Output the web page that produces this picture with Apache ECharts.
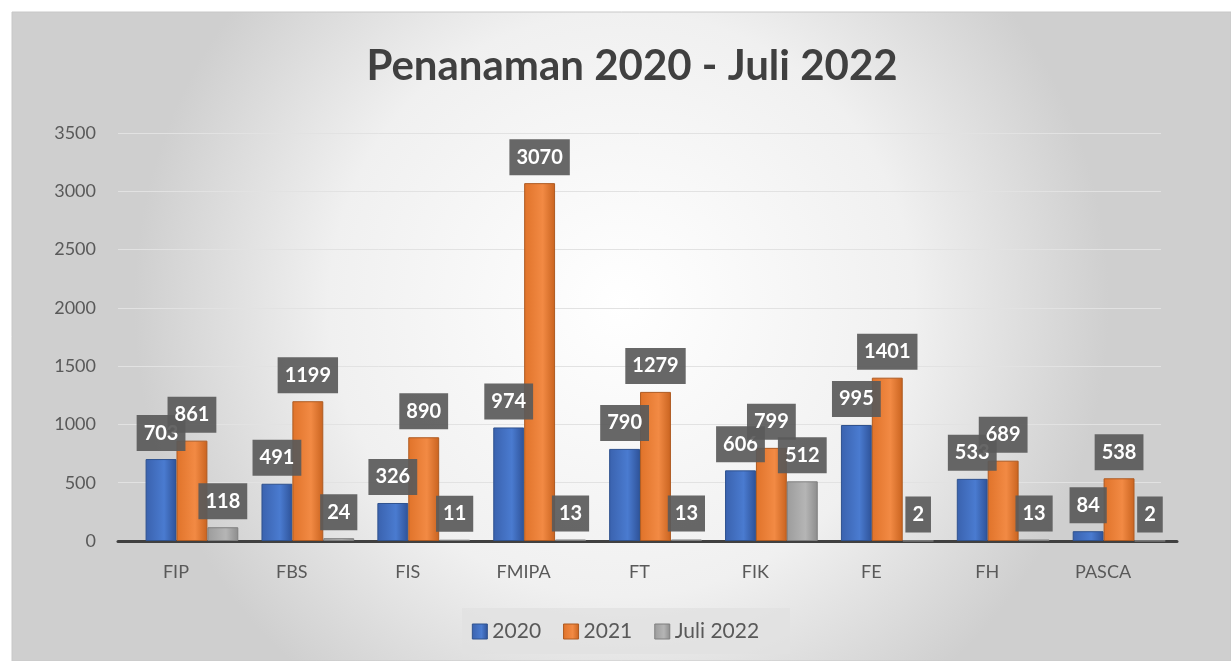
<!DOCTYPE html>
<html><head><meta charset="utf-8">
<script src="https://cdn.jsdelivr.net/npm/echarts@6/dist/echarts.min.js"></script>
<style>html,body{margin:0;padding:0;background:#fff}#c{width:1231px;height:661px}</style>
</head><body><div id="c"></div>
<script>
const categories = ['FIP','FBS','FIS','FMIPA','FT','FIK','FE','FH','PASCA'];
const s2020 = [703,491,326,974,790,606,995,533,84];
const s2021 = [861,1199,890,3070,1279,799,1401,689,538];
const sJuli2022 = [118,24,11,13,13,512,2,13,2];
const seriesNames = ['2020','2021','Juli 2022'];
const yTicks = [0,500,1000,1500,2000,2500,3000,3500];

const chart = echarts.init(document.getElementById('c'));
function grad(c1,c2,c3){
  return {type:'linear',x:0,y:0,x2:1,y2:0,colorStops:[{offset:0,color:c1},{offset:0.6,color:c2},{offset:1,color:c3}]};
}
const FF = 'Lato, "Open Sans", sans-serif';
const lbl = {
  show:true, position:'top', distance:8,
  backgroundColor:'rgba(90,90,90,0.92)', color:'#fff',
  fontFamily:FF, fontWeight:'bold', fontSize:20,
  padding:[8,7,8,7]
};
chart.setOption({
  backgroundColor:'#fff',
  graphic:[{type:'rect', z:-10, shape:{x:12,y:12,width:1219,height:649},
    style:{fill:{type:'radial',x:0.5,y:0.45,r:0.75,colorStops:[{offset:0,color:'#ffffff'},{offset:0.6,color:'#f0f0f0'},{offset:1,color:'#cfcfcf'}]},
      stroke:'#c8c8c8', lineWidth:1}},
    {type:'rect', z:-5, shape:{x:462,y:608,width:328,height:46}, style:{fill:'rgba(225,225,225,0.8)'}}
  ],
  title:{text:'Penanaman 2020 - Juli 2022', left:627, textAlign:'center', top:40,
    textStyle:{fontFamily:FF, fontWeight:'bold', fontSize:42, color:'#404040'}},
  legend:{bottom:14, left:'center', icon:'rect', itemWidth:15, itemHeight:15, itemGap:22,
    textStyle:{fontFamily:FF, fontSize:21, color:'#595959'},
    data:seriesNames.map((n,i)=>({name:n, itemStyle:{borderColor:['#2F528F','#AE5A21','#7F7F7F'][i], borderWidth:1}}))},
  grid:[{left:118, right:70, top:133, bottom:120},{left:134, right:54, top:133, bottom:120}],
  xAxis:[{type:'category', data:categories, gridIndex:0,
    axisLine:{lineStyle:{color:'#404040', width:3}}, axisTick:{show:false},
    axisLabel:{fontFamily:FF, fontSize:18, color:'#595959', margin:22}},
    {type:'category', data:categories, gridIndex:1,
    axisLine:{lineStyle:{color:'#404040', width:3}}, axisTick:{show:false}, axisLabel:{show:false}}],
  yAxis:[{type:'value', min:0, max:3500, interval:500, gridIndex:0,
    axisLabel:{fontFamily:FF, fontSize:18, color:'#595959', margin:22,
      formatter:v=>yTicks.includes(v)?String(v):''},
    splitLine:{lineStyle:{color:'#e2e2e2', width:1}}, axisLine:{show:false}},
    {type:'value', min:0, max:3500, interval:500, gridIndex:1,
    axisLabel:{show:false}, splitLine:{show:false}, axisLine:{show:false}}],
  series:[
    {name:seriesNames[0], type:'bar', data:s2020, xAxisIndex:1, yAxisIndex:1, barGap:'0%', barCategoryGap:'20%',
     itemStyle:{color:grad('#3A62AE','#4A7BD0','#2E5298'), borderColor:'#2F528F', borderWidth:1}, label:lbl},
    {name:seriesNames[1], type:'bar', data:s2021, xAxisIndex:1, yAxisIndex:1,
     itemStyle:{color:grad('#E0732A','#F28A44','#C9631F'), borderColor:'#AE5A21', borderWidth:1}, label:lbl},
    {name:seriesNames[2], type:'bar', data:sJuli2022, xAxisIndex:1, yAxisIndex:1,
     itemStyle:{color:grad('#9C9C9C','#B5B5B5','#8C8C8C'), borderColor:'#7F7F7F', borderWidth:1}, label:lbl}
  ]
});
</script></body></html>
